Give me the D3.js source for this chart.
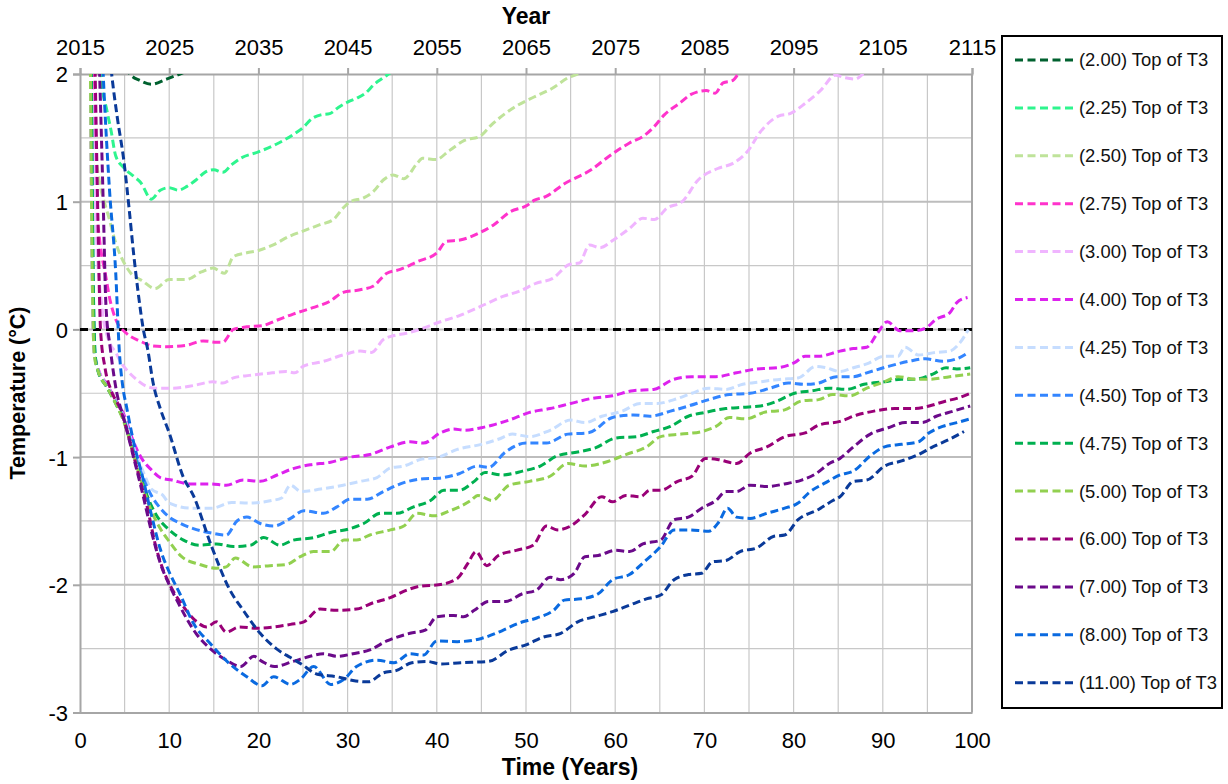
<!DOCTYPE html>
<html>
<head>
<meta charset="utf-8">
<script src="https://cdn.jsdelivr.net/npm/d3@7"></script>
<style>
  html, body { margin: 0; padding: 0; background: #fff; }
  svg { display: block; font-family: Arial, "Liberation Sans", sans-serif; }
</style>
</head>
<body>
<svg id="chart" width="1228" height="784"></svg>
<script>
// Top-of-T3 temperature over time for each scenario: [time (years), temperature (°C)]
const s200 = [[0,12],[1,7],[2,4.2],[3,3.0],[4,2.4],[5,2.1],[5.6,2.0],[6.7,1.95],[8,1.92],[9.7,1.96],[11.2,2.0],[13,2.05],[15,2.1]];
const s225 = [[0,12],[1,6],[1.8,3.0],[2.4,1.95],[3,1.72],[3.5,1.55],[4,1.36],[5,1.26],[6,1.2],[6.8,1.15],[8,1.02],[9,1.09],[10,1.11],[11,1.09],[12,1.12],[13,1.17],[14,1.23],[15,1.25],[16,1.23],[17,1.29],[18,1.34],[20,1.39],[22,1.45],[24,1.53],[25,1.58],[26,1.65],[27,1.68],[28,1.69],[29,1.74],[30,1.78],[31,1.81],[32,1.85],[33,1.92],[34,1.97],[35,2.02],[37,2.1]];
const s250 = [[0,12],[0.8,3.5],[1.2,2.0],[1.6,1.5],[2.2,1.15],[2.8,0.98],[3.3,0.86],[3.7,0.75],[4.3,0.62],[4.6,0.57],[5.7,0.44],[7,0.38],[8.4,0.32],[10,0.39],[11.9,0.39],[13.6,0.45],[14.9,0.48],[16.2,0.44],[17.2,0.57],[18.7,0.6],[20.1,0.62],[21.6,0.66],[23.5,0.73],[25,0.77],[26.9,0.82],[28.4,0.86],[29.5,0.95],[30.3,1.0],[31.8,1.03],[32.9,1.08],[34,1.17],[35.1,1.21],[36.3,1.18],[37.8,1.3],[38.4,1.34],[39.9,1.33],[41.4,1.4],[43.1,1.48],[44.8,1.51],[46.1,1.6],[48.7,1.74],[50.9,1.82],[53,1.89],[54.7,1.97],[55.8,2.0],[57,2.05]];
const s275 = [[0,12],[1,4],[1.5,1.8],[1.8,1.05],[2.2,0.7],[2.8,0.45],[3.4,0.22],[4,0.08],[5.2,-0.03],[6.7,-0.09],[8.2,-0.13],[9.7,-0.135],[11.9,-0.125],[13.8,-0.09],[15.3,-0.1],[16,-0.1],[17.2,0.0],[18.7,0.02],[20.5,0.03],[22,0.07],[23.9,0.12],[26.1,0.17],[28,0.22],[29.5,0.29],[31.4,0.31],[32.9,0.34],[34.4,0.44],[35.9,0.47],[37.8,0.53],[40,0.6],[41.1,0.69],[42.6,0.7],[44.9,0.76],[46.4,0.82],[48.2,0.92],[50.1,0.97],[50.9,1.01],[52.2,1.04],[54.3,1.14],[57.3,1.25],[59.2,1.35],[61.6,1.46],[63.3,1.52],[64.4,1.59],[65.5,1.68],[67.2,1.77],[68.5,1.84],[70.2,1.87],[71.2,1.85],[72.1,1.93],[73.2,1.95],[73.8,2.0],[75,2.05]];
const s300 = [[0,12],[0.9,3.5],[1.3,2.0],[1.8,0.8],[2.5,0.15],[3.3,-0.1],[4,-0.18],[4.6,-0.26],[5.4,-0.33],[6.3,-0.39],[7.3,-0.44],[8.5,-0.46],[10.4,-0.46],[12.7,-0.44],[14.9,-0.41],[16,-0.42],[17.2,-0.38],[19,-0.36],[20.9,-0.345],[23.1,-0.33],[24.1,-0.34],[25,-0.29],[27.3,-0.25],[29.5,-0.2],[31.4,-0.17],[32.7,-0.18],[34,-0.08],[35.1,-0.05],[36.6,-0.03],[38.1,0.0],[40,0.05],[42.6,0.11],[44.9,0.18],[47.5,0.26],[49.3,0.3],[51.1,0.36],[53,0.4],[54.9,0.51],[56,0.52],[57.1,0.66],[58.3,0.64],[59.8,0.7],[61.6,0.79],[63.1,0.87],[64.4,0.86],[65.8,0.95],[67.5,1.0],[69.3,1.17],[71.5,1.26],[73.2,1.3],[74.9,1.4],[76.2,1.54],[78.3,1.67],[79.6,1.69],[81.3,1.77],[83,1.87],[84.7,1.99],[85.8,1.97],[86.9,1.96],[87.8,2.0],[89,2.05]];
const s400 = [[0,12],[1.1,2.6],[1.4,0.3],[1.6,-0.18],[2,-0.3],[3,-0.43],[4,-0.55],[5,-0.68],[6,-0.88],[7,-1.02],[8,-1.1],[9,-1.16],[10.3,-1.18],[12.3,-1.21],[14.6,-1.21],[16.4,-1.22],[18.3,-1.18],[20.2,-1.19],[22.1,-1.14],[23.9,-1.09],[25.8,-1.06],[28.1,-1.04],[30.3,-1.0],[32.5,-0.98],[34.8,-0.92],[37,-0.88],[38.5,-0.89],[40.4,-0.81],[41.9,-0.78],[43.1,-0.79],[45,-0.77],[46.2,-0.75],[48.1,-0.71],[50.4,-0.65],[52.7,-0.62],[55,-0.58],[57.4,-0.54],[59.7,-0.52],[62,-0.48],[64.3,-0.47],[66.6,-0.39],[68.6,-0.37],[71.3,-0.37],[73.6,-0.34],[75.9,-0.31],[78.2,-0.3],[80.1,-0.26],[81.3,-0.21],[82.8,-0.21],[85.2,-0.17],[86.7,-0.15],[88.2,-0.14],[89.4,-0.03],[90.5,0.06],[91.9,-0.01],[93.6,-0.01],[94.8,0.01],[96,0.08],[97.5,0.13],[98.3,0.21],[99.5,0.25]];
const s425 = [[0,12],[1.1,2.6],[1.4,0.3],[1.6,-0.2],[2,-0.31],[3,-0.44],[4,-0.56],[5,-0.7],[6,-0.92],[7,-1.1],[8,-1.25],[9.3,-1.3],[10,-1.36],[12.5,-1.4],[14.8,-1.4],[17,-1.355],[19,-1.36],[21.5,-1.34],[22.6,-1.32],[23.6,-1.22],[24.8,-1.27],[27,-1.25],[29.5,-1.22],[31.4,-1.19],[33.3,-1.16],[34.8,-1.085],[36.3,-1.07],[38.1,-1.02],[40.2,-1.0],[42.3,-0.94],[45,-0.9],[46.9,-0.86],[48.5,-0.82],[50.4,-0.84],[52.7,-0.79],[55,-0.71],[56.6,-0.73],[58.5,-0.68],[60.8,-0.64],[62.8,-0.58],[64.7,-0.58],[66.6,-0.55],[68.6,-0.5],[70.5,-0.46],[72.4,-0.47],[74.3,-0.43],[76.3,-0.41],[78.6,-0.39],[80.5,-0.38],[82.5,-0.29],[83.6,-0.3],[85.2,-0.33],[86.7,-0.3],[88.2,-0.27],[90.2,-0.21],[91.7,-0.21],[92.5,-0.14],[94,-0.2],[96,-0.18],[97.5,-0.17],[98.7,-0.1],[99.6,0.0]];
const s450 = [[0,12],[1.2,2.6],[1.5,0.3],[1.7,-0.2],[2,-0.32],[3,-0.45],[4,-0.57],[5,-0.72],[6,-0.95],[7,-1.15],[8,-1.3],[9,-1.4],[10,-1.47],[11.3,-1.52],[12.7,-1.56],[14.4,-1.59],[16.4,-1.61],[17.6,-1.5],[18.7,-1.47],[20.2,-1.52],[21.7,-1.54],[23.6,-1.48],[25.1,-1.42],[27.3,-1.44],[28.8,-1.39],[30.3,-1.33],[32.2,-1.33],[34,-1.27],[36.3,-1.2],[38.5,-1.17],[40.2,-1.165],[42.5,-1.13],[44.6,-1.07],[45.8,-1.08],[47.7,-0.96],[50,-0.89],[52.3,-0.89],[54.7,-0.82],[57,-0.81],[59.7,-0.69],[62,-0.67],[63.9,-0.68],[66.2,-0.64],[68.2,-0.6],[70.5,-0.55],[72.8,-0.51],[75.1,-0.5],[77.4,-0.46],[79.4,-0.42],[81.3,-0.43],[82.8,-0.42],[84.8,-0.37],[86.7,-0.37],[88.2,-0.34],[90.6,-0.29],[92.9,-0.25],[94.8,-0.23],[96.7,-0.25],[98.3,-0.23],[99.6,-0.18]];
const s475 = [[0,12],[1.2,2.6],[1.5,0.3],[1.7,-0.2],[2,-0.32],[3,-0.45],[4,-0.58],[5,-0.73],[6,-0.97],[7,-1.2],[8,-1.38],[9,-1.5],[9.7,-1.55],[11.6,-1.65],[13.4,-1.69],[15.3,-1.68],[17.2,-1.7],[19.1,-1.69],[20.6,-1.63],[22.4,-1.69],[23.9,-1.65],[26.2,-1.63],[28.1,-1.59],[30.3,-1.56],[31.8,-1.52],[33.7,-1.44],[35.5,-1.44],[37.4,-1.39],[39.3,-1.34],[40.8,-1.26],[42.5,-1.26],[44.2,-1.19],[45.4,-1.12],[47.3,-1.14],[49.6,-1.11],[51.6,-1.07],[53.5,-0.99],[55.8,-0.96],[57.7,-0.93],[60.1,-0.85],[62.4,-0.84],[64.3,-0.8],[66.2,-0.76],[68.2,-0.68],[70.1,-0.65],[72.4,-0.62],[74.3,-0.61],[76.3,-0.6],[78.2,-0.56],[80.1,-0.5],[82.1,-0.48],[84,-0.46],[85.9,-0.47],[87.9,-0.43],[90.2,-0.41],[92.1,-0.39],[93.6,-0.39],[95.6,-0.35],[97.1,-0.3],[98.3,-0.31],[99.8,-0.3]];
const s500 = [[0,12],[1.1,2.6],[1.4,0.3],[1.6,-0.2],[2,-0.32],[3,-0.45],[4,-0.58],[5,-0.74],[6,-0.98],[7,-1.22],[8,-1.42],[9,-1.56],[10,-1.66],[11.4,-1.78],[13.4,-1.84],[15.3,-1.87],[16.4,-1.86],[17.4,-1.79],[19.4,-1.86],[21.3,-1.85],[23.2,-1.84],[24.7,-1.78],[26.2,-1.74],[28.1,-1.74],[29.6,-1.65],[31,-1.65],[32.5,-1.61],[34.8,-1.57],[36.3,-1.54],[37.8,-1.44],[39.7,-1.46],[41.5,-1.42],[43.8,-1.34],[44.6,-1.3],[46.2,-1.34],[48.1,-1.22],[50.4,-1.19],[52.7,-1.15],[54.7,-1.05],[56.6,-1.07],[58.9,-1.04],[61.2,-0.98],[63.5,-0.92],[65.1,-0.84],[67.4,-0.82],[69.7,-0.8],[71.3,-0.76],[72.8,-0.69],[74.7,-0.7],[76.7,-0.65],[79,-0.63],[80.9,-0.56],[82.8,-0.55],[84.4,-0.51],[86.3,-0.52],[88.2,-0.46],[90.2,-0.41],[91.7,-0.37],[93.6,-0.39],[95.2,-0.39],[97.5,-0.37],[99.8,-0.35]];
const s600 = [[0,12],[1.2,3.5],[1.7,2.0],[2.0,0.9],[2.3,0.0],[2.8,-0.3],[3.5,-0.48],[4.5,-0.62],[5.5,-0.85],[6.5,-1.12],[7.5,-1.38],[8.5,-1.7],[9.3,-1.88],[10,-1.99],[11.6,-2.17],[13.1,-2.29],[14.2,-2.33],[15.3,-2.29],[16.4,-2.37],[17.9,-2.33],[19.8,-2.34],[21.7,-2.33],[23.6,-2.31],[25.1,-2.29],[26.9,-2.19],[28.8,-2.2],[31,-2.19],[32.9,-2.14],[34.8,-2.1],[36.7,-2.04],[38.2,-2.01],[40.2,-2.0],[42.3,-1.95],[43.5,-1.83],[44.4,-1.74],[45.6,-1.85],[46.9,-1.77],[48.9,-1.73],[50.8,-1.69],[52.3,-1.54],[53.5,-1.57],[55,-1.54],[56.6,-1.45],[58.5,-1.31],[59.7,-1.35],[61.2,-1.3],[62.8,-1.31],[63.9,-1.26],[65.1,-1.26],[67,-1.19],[68.6,-1.15],[70.1,-1.01],[71.6,-1.02],[73.6,-1.05],[75.1,-0.97],[77,-0.92],[79,-0.84],[81.3,-0.81],[82.8,-0.75],[85.2,-0.72],[87.1,-0.67],[89,-0.64],[91.3,-0.62],[93.6,-0.62],[95.2,-0.6],[97.1,-0.56],[98.3,-0.54],[99.8,-0.5]];
const s700 = [[0,12],[1.5,3.5],[2.2,2.0],[2.6,1.0],[2.9,0.2],[3.4,-0.15],[4,-0.45],[5,-0.72],[6,-1.0],[7,-1.28],[8,-1.58],[9,-1.83],[10,-2.0],[11,-2.14],[12,-2.27],[13,-2.38],[14.6,-2.5],[16.4,-2.59],[18,-2.64],[19.5,-2.56],[20.4,-2.6],[21.8,-2.64],[23.9,-2.6],[25.8,-2.56],[27.3,-2.54],[28.8,-2.56],[30.6,-2.54],[32.5,-2.51],[34.4,-2.44],[37,-2.38],[38.7,-2.355],[40,-2.25],[41.9,-2.24],[43,-2.25],[44.2,-2.2],[45.8,-2.13],[47.7,-2.13],[49.6,-2.07],[51.2,-2.04],[52.7,-1.94],[53.9,-1.96],[55.4,-1.91],[56.6,-1.78],[58.1,-1.77],[60.1,-1.73],[61.6,-1.74],[63.1,-1.68],[65.1,-1.65],[66.6,-1.49],[68.2,-1.47],[69.7,-1.4],[71.3,-1.34],[72.4,-1.27],[73.6,-1.27],[75.1,-1.22],[77,-1.23],[79,-1.21],[80.9,-1.18],[82.5,-1.13],[84,-1.05],[85.2,-1.01],[86.7,-0.92],[88.6,-0.82],[90.6,-0.77],[92.5,-0.73],[94.4,-0.73],[96,-0.68],[97.9,-0.64],[99.8,-0.6]];
const s800 = [[0,12],[1.8,3.5],[2.6,2.0],[3.3,1.1],[4,0.45],[4.4,-0.16],[4.8,-0.45],[5.2,-0.6],[6,-0.88],[7,-1.15],[8,-1.45],[9,-1.72],[10,-1.9],[11.2,-2.07],[12.7,-2.3],[14.6,-2.46],[16.8,-2.62],[18.7,-2.72],[20.4,-2.79],[21.7,-2.72],[23.6,-2.78],[24.7,-2.74],[26.2,-2.64],[28.1,-2.78],[29.6,-2.74],[31,-2.64],[33.3,-2.59],[35.2,-2.61],[37,-2.54],[38.5,-2.55],[40,-2.44],[42.3,-2.445],[45,-2.42],[47.3,-2.36],[49.2,-2.3],[51.2,-2.26],[53.1,-2.2],[54.3,-2.12],[56.2,-2.11],[58.1,-2.07],[59.7,-1.96],[61.6,-1.92],[63.1,-1.83],[65.1,-1.7],[66.6,-1.57],[68.2,-1.57],[70.5,-1.58],[71.6,-1.51],[72.6,-1.4],[73.6,-1.47],[75.1,-1.48],[77,-1.44],[79,-1.4],[80.5,-1.36],[81.7,-1.28],[83.6,-1.2],[85.2,-1.14],[86.7,-1.11],[88.6,-0.99],[90.2,-0.92],[92.1,-0.9],[94,-0.88],[95.2,-0.81],[96.7,-0.76],[98.3,-0.73],[99.8,-0.7]];
const s1100 = [[0,12],[2,4],[3,2.4],[3.55,2.0],[4.2,1.65],[4.9,1.33],[5.5,0.95],[6,0.6],[6.5,0.3],[7.1,0.0],[7.6,-0.16],[8.2,-0.42],[9,-0.62],[10,-0.81],[11.6,-1.16],[12.7,-1.3],[14.7,-1.69],[16.8,-2.04],[18.3,-2.2],[20.2,-2.38],[22,-2.5],[23.6,-2.57],[24.8,-2.62],[26.6,-2.7],[28.8,-2.72],[30.6,-2.75],[32.3,-2.76],[34,-2.69],[35.5,-2.67],[37.2,-2.61],[38.9,-2.6],[40.5,-2.62],[42.7,-2.61],[45.8,-2.6],[48.1,-2.51],[50,-2.47],[51.9,-2.41],[53.9,-2.38],[55.8,-2.29],[57.7,-2.25],[59.7,-2.21],[61.6,-2.16],[63.5,-2.11],[65.1,-2.08],[66.6,-1.96],[68.2,-1.92],[69.7,-1.91],[70.9,-1.82],[72.4,-1.81],[74,-1.74],[75.9,-1.71],[77.8,-1.62],[79,-1.61],[80.5,-1.49],[82.8,-1.41],[84.4,-1.34],[85.2,-1.31],[86.7,-1.19],[88.2,-1.18],[90.2,-1.07],[92.1,-1.03],[94,-0.98],[95.6,-0.92],[97.5,-0.86],[99.1,-0.8]];

const seriesNames = ["(2.00) Top of T3","(2.25) Top of T3","(2.50) Top of T3","(2.75) Top of T3","(3.00) Top of T3","(4.00) Top of T3","(4.25) Top of T3","(4.50) Top of T3","(4.75) Top of T3","(5.00) Top of T3","(6.00) Top of T3","(7.00) Top of T3","(8.00) Top of T3","(11.00) Top of T3"];
const seriesValues = [s200, s225, s250, s275, s300, s400, s425, s450, s475, s500, s600, s700, s800, s1100];
const seriesColors = ["#00612f","#2ef58e","#bfe39a","#ff33cc","#f0b5ff","#dd22ee","#c6ddff","#3385ff","#00b050","#92d050","#990077","#6b0a8a","#0a6ae0","#0a3a99"];

const timeTicks = [0,10,20,30,40,50,60,70,80,90,100];
const yearTicks = [2015,2025,2035,2045,2055,2065,2075,2085,2095,2105,2115];
const tempTicks = [2,1,0,-1,-2,-3];
const zeroLine = [[0,0],[100,0]];

const svg = d3.select("#chart");
const plot = { left: 80, right: 972, top: 74, bottom: 712.5 };

const x = d3.scaleLinear().domain([0, 100]).range([plot.left, plot.right]);
const xYear = d3.scaleLinear().domain([2015, 2115]).range([plot.left, plot.right]);
const y = d3.scaleLinear().domain([-3, 2]).range([plot.bottom, plot.top]);

svg.append("defs").append("clipPath").attr("id", "plotClip")
  .append("rect")
  .attr("x", plot.left).attr("y", plot.top)
  .attr("width", plot.right - plot.left).attr("height", plot.bottom - plot.top);

// gridlines: every 5 years vertically, every 0.5 °C horizontally
const grid = svg.append("g");
grid.selectAll("line.v").data(d3.range(5, 100, 5)).join("line")
  .attr("x1", d => x(d)).attr("x2", d => x(d))
  .attr("y1", plot.top).attr("y2", plot.bottom)
  .attr("stroke", "#c8c8c8").attr("stroke-width", 1.2);
grid.selectAll("line.h").data(d3.range(-2.5, 2, 0.5)).join("line")
  .attr("x1", plot.left).attr("x2", plot.right)
  .attr("y1", d => y(d)).attr("y2", d => y(d))
  .attr("stroke", d => Number.isInteger(d) ? "#bdbdbd" : "#c8c8c8")
  .attr("stroke-width", d => Number.isInteger(d) ? 2 : 1.2);

// axes
const axisColor = "#a6a6a6";
const gx = svg.append("g").attr("transform", `translate(0,${plot.bottom})`)
  .call(d3.axisBottom(x).tickValues(timeTicks).tickSize(0).tickPadding(20));
const gxt = svg.append("g").attr("transform", `translate(0,${plot.top})`)
  .call(d3.axisTop(xYear).tickValues(yearTicks).tickFormat(d => String(d)).tickSize(6).tickPadding(13));
const gy = svg.append("g").attr("transform", `translate(${plot.left},0)`)
  .call(d3.axisLeft(y).tickValues(tempTicks).tickFormat(d => String(d)).tickSize(7).tickPadding(5));
[gx, gxt, gy].forEach(g => {
  g.select(".domain").attr("stroke", axisColor).attr("stroke-width", 2);
  g.selectAll(".tick line").attr("stroke", axisColor).attr("stroke-width", 2);
  g.selectAll(".tick text").attr("fill", "#000").style("font-size", "22px")
    .style("font-family", "Arial, 'Liberation Sans', sans-serif");
});
gy.selectAll(".tick text").attr("dy", "0.36em");
// right border of the plot area
svg.append("line")
  .attr("x1", plot.right).attr("x2", plot.right)
  .attr("y1", plot.top).attr("y2", plot.bottom)
  .attr("stroke", axisColor).attr("stroke-width", 2);

// axis titles
svg.append("text").attr("x", (plot.left + plot.right) / 2).attr("y", 24)
  .attr("text-anchor", "middle").style("font-size", "23px").style("font-weight", "bold").text("Year");
svg.append("text").attr("x", 570).attr("y", 775)
  .attr("text-anchor", "middle").style("font-size", "23px").style("font-weight", "bold").text("Time (Years)");
svg.append("text").attr("transform", "translate(25,393) rotate(-90)")
  .attr("text-anchor", "middle").style("font-size", "21.5px").style("font-weight", "bold").text("Temperature (°C)");

// series lines
const line = d3.line().x(d => x(d[0])).y(d => y(d[1])).curve(d3.curveMonotoneX);
const lines = svg.append("g").attr("clip-path", "url(#plotClip)");
lines.append("path").datum(zeroLine)
  .attr("d", d3.line().x(d => x(d[0])).y(d => y(d[1])))
  .attr("fill", "none").attr("stroke", "#000").attr("stroke-width", 3).attr("stroke-dasharray", "8,5");
lines.selectAll("path.series").data(seriesValues).join("path")
  .attr("class", "series")
  .attr("d", line)
  .attr("fill", "none")
  .attr("stroke", (d, i) => seriesColors[i])
  .attr("stroke-width", 3)
  .attr("stroke-dasharray", "8,4");

// legend
const legend = svg.append("g");
legend.append("rect").attr("x", 1002).attr("y", 36).attr("width", 220).attr("height", 672)
  .attr("fill", "#fff").attr("stroke", "#000").attr("stroke-width", 2);
const items = legend.selectAll("g.item").data(seriesNames).join("g")
  .attr("class", "item")
  .attr("transform", (d, i) => `translate(0,${60 + i * 47.9})`);
items.append("line").attr("x1", 1015).attr("x2", 1075).attr("y1", 0).attr("y2", 0)
  .attr("stroke", (d, i) => seriesColors[i]).attr("stroke-width", 3).attr("stroke-dasharray", "8,4.5");
items.append("text").attr("x", 1079).attr("y", 0).attr("dy", "0.35em")
  .style("font-size", "18.4px").attr("fill", "#111").text(d => d);
</script>
</body>
</html>
